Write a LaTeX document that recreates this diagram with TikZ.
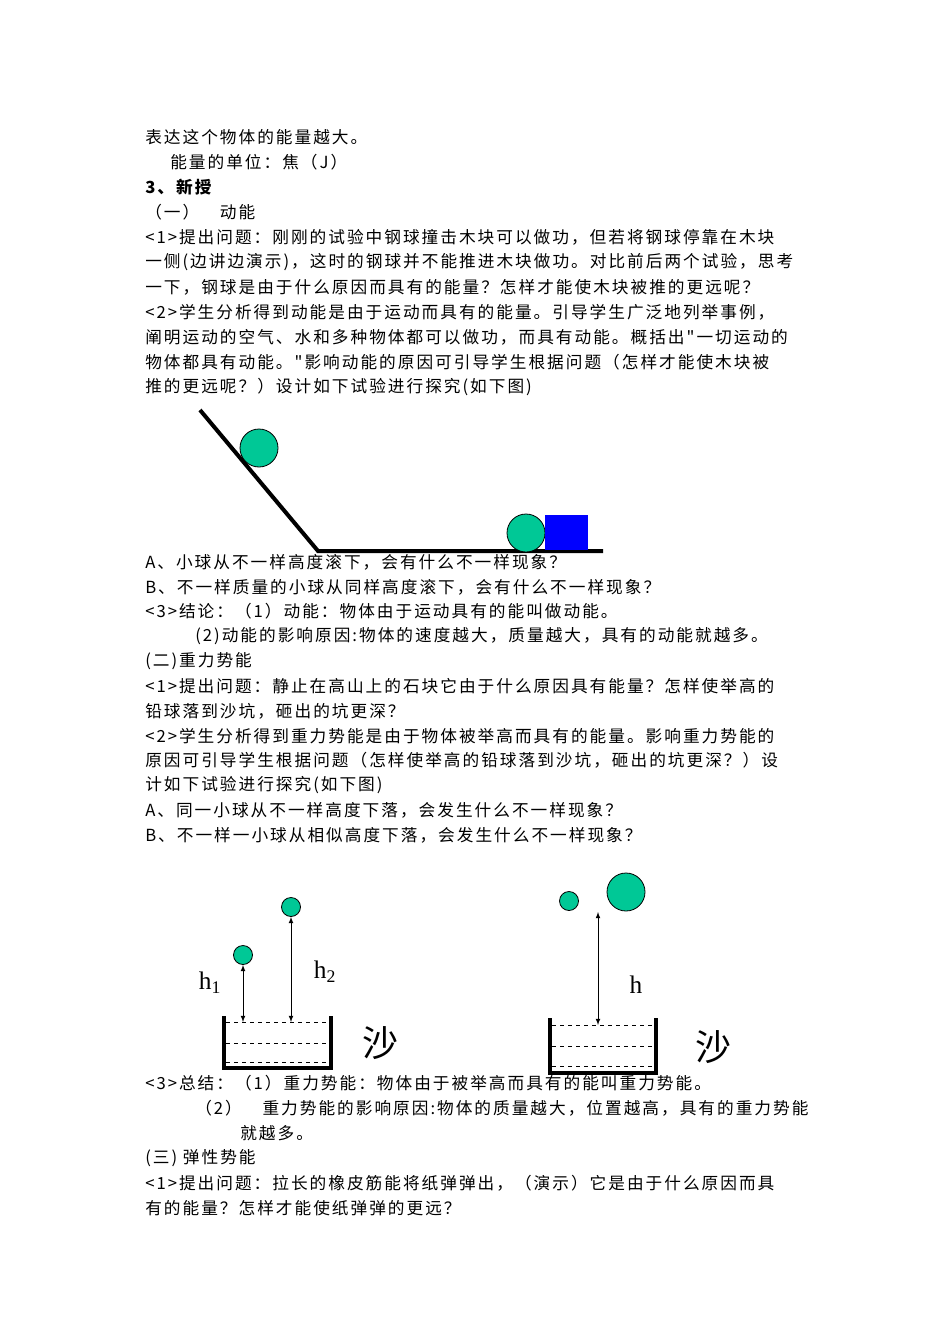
\documentclass[tikz,border=0pt]{standalone}
\usepackage{fontspec}
\setmainfont{Liberation Serif}
\newfontfamily\cjk[LetterSpace=12]{Noto Sans CJK SC}
\newfontfamily\cjkbig{Noto Sans CJK SC}
\begin{document}
\begin{tikzpicture}[x=0.75pt,y=-0.75pt,
  txt/.style={anchor=west,inner sep=0pt,font=\cjk\fontsize{12.5}{13}\selectfont},
  ball/.style={circle,draw=black,inner sep=0pt,line width=0.6pt},
  wall/.style={line width=3pt},
  sand/.style={dashed,line width=0.6pt}]
\useasboundingbox (0,0) rectangle (950,1344);
\fill[white] (0,0) rectangle (950,1344);
\definecolor{ballc}{HTML}{00C896}
\tikzset{ball/.append style={fill=ballc}}
\node[txt] (l1) at (145,137) {表达这个物体的能量越大。};
\node[txt] (l2) at (170,162) {能量的单位：焦（J）};
\node[txt,font=\cjk\bfseries\fontsize{12.5}{13}\selectfont] (l3) at (145,187) {3、新授};
\node[txt] (l4) at (145,212) {（一）　动能};
\node[txt] (l5) at (145,237) {<1>提出问题：刚刚的试验中钢球撞击木块可以做功，但若将钢球停靠在木块};
\node[txt] (l6) at (145,262) {一侧(边讲边演示)，这时的钢球并不能推进木块做功。对比前后两个试验，思考};
\node[txt] (l7) at (145,287) {一下，钢球是由于什么原因而具有的能量？怎样才能使木块被推的更远呢？};
\node[txt] (l8) at (145,312) {<2>学生分析得到动能是由于运动而具有的能量。引导学生广泛地列举事例，};
\node[txt] (l9) at (145,337) {阐明运动的空气、水和多种物体都可以做功，而具有动能。概括出"一切运动的};
\node[txt] (l10) at (145,362) {物体都具有动能。"影响动能的原因可引导学生根据问题（怎样才能使木块被};
\node[txt] (l11) at (145,387) {推的更远呢？）设计如下试验进行探究(如下图)};
% ramp
\draw[line width=3pt] (200,410) -- (318,551) -- (603,551);
\node[ball,minimum size=28.5pt] (b1) at (259,448) {};
\node[ball,minimum size=28.5pt] (b2) at (526,533) {};
\fill[blue] (545,515) rectangle (588,550);
\node[txt] (l12) at (145,562) {A、小球从不一样高度滚下，会有什么不一样现象？};
\node[txt] (l13) at (145,587) {B、不一样质量的小球从同样高度滚下，会有什么不一样现象？};
\node[txt] (l14) at (145,611) {<3>结论：（1）动能：物体由于运动具有的能叫做动能。};
\node[txt] (l15) at (195,636) {(2)动能的影响原因:物体的速度越大，质量越大，具有的动能就越多。};
\node[txt] (l16) at (145,661) {(二)重力势能};
\node[txt] (l17) at (145,686) {<1>提出问题：静止在高山上的石块它由于什么原因具有能量？怎样使举高的};
\node[txt] (l18) at (145,711) {铅球落到沙坑，砸出的坑更深？};
\node[txt] (l19) at (145,736) {<2>学生分析得到重力势能是由于物体被举高而具有的能量。影响重力势能的};
\node[txt] (l20) at (145,760) {原因可引导学生根据问题（怎样使举高的铅球落到沙坑，砸出的坑更深？）设};
\node[txt] (l21) at (145,785) {计如下试验进行探究(如下图)};
\node[txt] (l22) at (145,810) {A、同一小球从不一样高度下落，会发生什么不一样现象？};
\node[txt] (l23) at (145,835) {B、不一样一小球从相似高度下落，会发生什么不一样现象？};
% left container
\draw[wall] (224,1016) -- (224,1068) -- (331,1068) -- (331,1016);
\draw[sand] (226,1022) -- (329,1022) (226,1043) -- (329,1043) (226,1062) -- (329,1062);
\node[ball,minimum size=14.25pt] (s1) at (243,955) {};
\node[ball,minimum size=14.25pt] (s2) at (291,907) {};
\coordinate (t1) at (243,1022);
\coordinate (t2) at (291,1022);
\draw[<->,>=latex,line width=0.6pt] (s1.south) -- (t1);
\draw[<->,>=latex,line width=0.6pt] (s2.south) -- (t2);
\node[font=\fontsize{19}{20}\selectfont] (h1) at (210,983) {h\textsubscript{1}};
\node[font=\fontsize{19}{20}\selectfont] (h2) at (325,972) {h\textsubscript{2}};
\node[font=\cjkbig\fontsize{27}{28}\selectfont] (sha1) at (380,1043) {沙};
% right container
\draw[wall] (550,1018) -- (550,1073) -- (656,1073) -- (656,1018);
\draw[sand] (552,1025) -- (654,1025) (552,1046) -- (654,1046) (552,1066) -- (654,1066);
\node[ball,minimum size=14.25pt] (s3) at (569,901) {};
\node[ball,minimum size=28.5pt] (s4) at (626,892) {};
\coordinate (ht) at (598,912);
\coordinate (hb) at (598,1025);
\draw[<->,>=latex,line width=0.6pt] (ht) -- (hb);
\node[font=\fontsize{19}{20}\selectfont] (h3) at (636,985) {h};
\node[font=\cjkbig\fontsize{27}{28}\selectfont] (sha2) at (713,1047) {沙};
\node[txt] (l24) at (145,1083) {<3>总结：（1）重力势能：物体由于被举高而具有的能叫重力势能。};
\node[txt] (l25) at (195,1108) {（2）　重力势能的影响原因:物体的质量越大，位置越高，具有的重力势能};
\node[txt] (l26) at (240,1133) {就越多。};
\node[txt] (l27) at (145,1158) {(三) 弹性势能};
\node[txt] (l28) at (145,1183) {<1>提出问题：拉长的橡皮筋能将纸弹弹出，（演示）它是由于什么原因而具};
\node[txt] (l29) at (145,1208) {有的能量？怎样才能使纸弹弹的更远？};
\end{tikzpicture}
\end{document}
